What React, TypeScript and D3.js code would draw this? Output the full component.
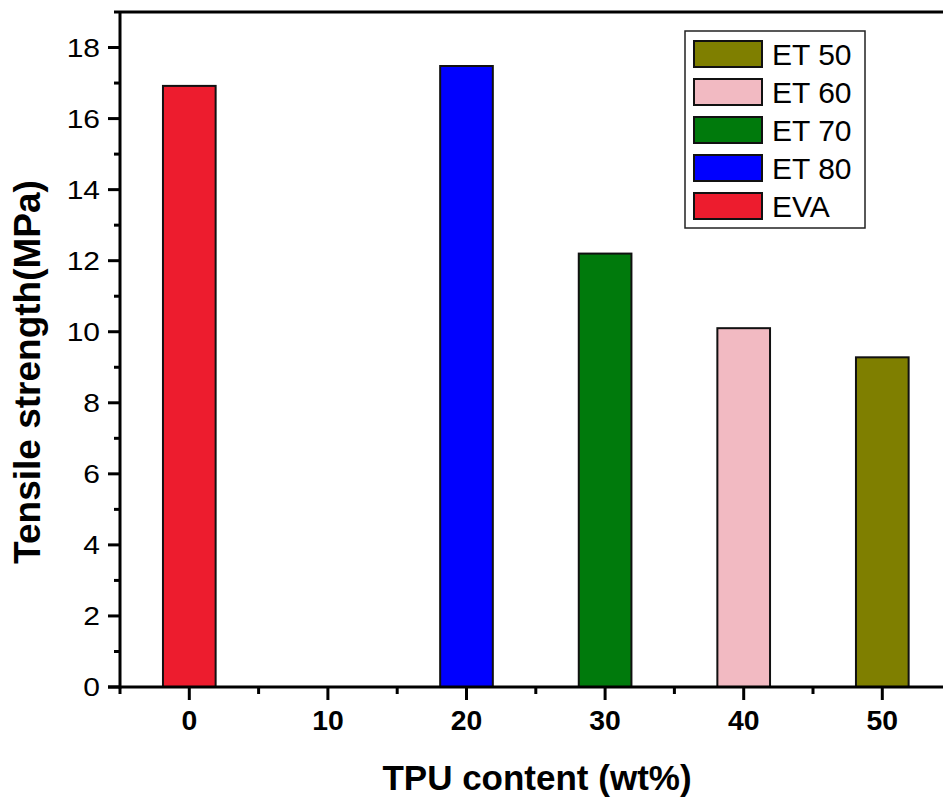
import React from "react";
import * as d3 from "d3";

const categories = ["EVA", "ET 80", "ET 70", "ET 60", "ET 50"];
const tpuContent = [0, 20, 30, 40, 50];
const strength = [16.92, 17.48, 12.2, 10.1, 9.28];
const colors = ["#ED1C2E", "#0000FF", "#007A0C", "#F2BAC2", "#7F7F00"];
const legendOrder = ["ET 50", "ET 60", "ET 70", "ET 80", "EVA"];
const xTicks = [0, 10, 20, 30, 40, 50];
const yTicks = [0, 2, 4, 6, 8, 10, 12, 14, 16, 18];

const W = 943;
const H = 799;
const font = "'Liberation Sans', Arial, sans-serif";

export default function App() {
  const x = d3.scaleLinear().domain([-5, 55]).range([120, 951.6]);
  const y = d3.scaleLinear().domain([0, 19]).range([687, 12]);
  const barW = x(1.9) - x(-1.9);
  const xMinor = d3.range(-5, 56, 5);
  const yMinor = d3.range(0, 19.01, 1);
  const colorOf = (c: string) => colors[categories.indexOf(c)];

  return (
    <svg width={W} height={H} style={{ position: "absolute", left: 0, top: 0, background: "#fff" }} fontFamily={font}>
      {/* bars */}
      {tpuContent.map((t, i) => (
        <rect
          key={i}
          x={x(t) - barW / 2}
          y={y(strength[i])}
          width={barW}
          height={y(0) - y(strength[i])}
          fill={colors[i]}
          stroke="#111"
          strokeWidth={2}
        />
      ))}
      {/* frame */}
      <line x1={120} x2={W} y1={y(19)} y2={y(19)} stroke="#000" strokeWidth={3} />
      <line x1={120} x2={120} y1={y(19)} y2={y(0) + 1.5} stroke="#000" strokeWidth={3} />
      <line x1={108} x2={W} y1={y(0)} y2={y(0)} stroke="#000" strokeWidth={3} />
      {/* y ticks */}
      {yMinor.map((v) => (
        <line key={"ym" + v} x1={v % 2 === 0 ? 108 : 114} x2={120} y1={y(v)} y2={y(v)} stroke="#000" strokeWidth={3} />
      ))}
      {yTicks.map((v) => (
        <text
          key={"yt" + v}
          transform={`translate(100, ${y(v)}) scale(1.2, 1)`}
          dy="0.36em"
          textAnchor="end"
          fontSize={25}
        >
          {v}
        </text>
      ))}
      {/* x ticks */}
      {xMinor.map((v) => (
        <line key={"xm" + v} x1={x(v)} x2={x(v)} y1={y(0)} y2={y(0) + (v % 10 === 0 ? 13 : 7)} stroke="#000" strokeWidth={3} />
      ))}
      {xTicks.map((v) => (
        <text
          key={"xt" + v}
          transform={`translate(${x(v)}, 730) scale(1.05, 1)`}
          textAnchor="middle"
          fontSize={27}
          fontWeight="bold"
        >
          {v}
        </text>
      ))}
      {/* axis titles */}
      <text x={537} y={790} textAnchor="middle" fontSize={35} fontWeight="bold">
        TPU content (wt%)
      </text>
      <text transform={`translate(40, 372) rotate(-90)`} textAnchor="middle" fontSize={37} fontWeight="bold">
        Tensile strength(MPa)
      </text>
      {/* legend */}
      <rect x={685} y={31} width={180} height={197} fill="#fff" stroke="#222" strokeWidth={1.5} />
      {legendOrder.map((c, i) => {
        const cy = 54 + i * 38;
        return (
          <g key={c}>
            <rect x={694} y={cy - 13} width={68} height={26} fill={colorOf(c)} stroke="#111" strokeWidth={2} />
            <text x={772} y={cy} dy="0.36em" fontSize={30}>
              {c}
            </text>
          </g>
        );
      })}
    </svg>
  );
}
